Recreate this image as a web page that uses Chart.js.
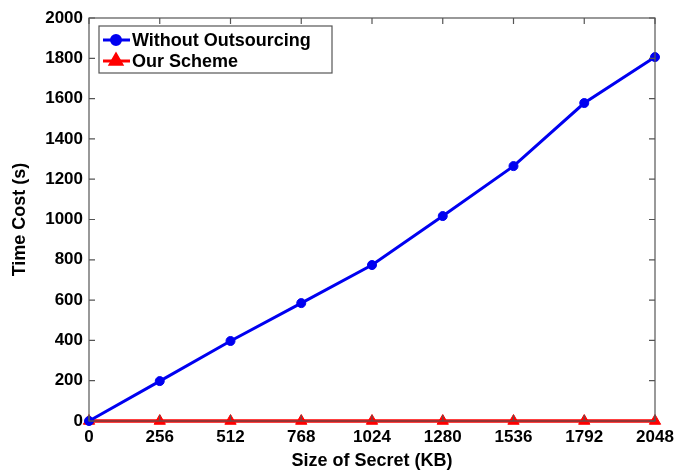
<!DOCTYPE html>
<html>
<head>
<meta charset="utf-8">
<script src="https://cdn.jsdelivr.net/npm/chart.js@4.4.1/dist/chart.umd.min.js"></script>
<style>
  html, body { margin: 0; padding: 0; background: #fff; }
  #wrap { width: 694px; height: 473px; position: relative; }
</style>
</head>
<body>
<div id="wrap"><canvas id="c"></canvas></div>
<script>
const secretSizes = [0, 256, 512, 768, 1024, 1280, 1536, 1792, 2048];
const withoutOutsourcing = [0, 198, 397, 585, 774, 1017, 1265, 1578, 1806];
const ourScheme = [0, 0, 0, 0, 0, 0, 0, 0, 0];
const seriesNames = ['Without Outsourcing', 'Our Scheme'];
const xTitle = 'Size of Secret (KB)';
const yTitle = 'Time Cost (s)';

const FONT = "'Liberation Sans', Arial, sans-serif";
const AXIS_COLOR = '#555';

function pts(ys) { return secretSizes.map((x, i) => ({ x: x, y: ys[i] })); }

const boxPlugin = {
  id: 'boxTicks',
  afterDatasetsDraw(chart) {
    const ctx = chart.ctx, a = chart.chartArea;
    const xs = chart.scales.x, ys = chart.scales.y;
    ctx.save();
    ctx.strokeStyle = AXIS_COLOR;
    ctx.lineWidth = 1.2;
    ctx.strokeRect(a.left, a.top, a.right - a.left, a.bottom - a.top);
    const L = 6;
    ctx.beginPath();
    xs.ticks.forEach(t => {
      const px = xs.getPixelForValue(t.value);
      ctx.moveTo(px, a.bottom); ctx.lineTo(px, a.bottom - L);
      ctx.moveTo(px, a.top); ctx.lineTo(px, a.top + L);
    });
    ys.ticks.forEach(t => {
      const py = ys.getPixelForValue(t.value);
      ctx.moveTo(a.left, py); ctx.lineTo(a.left + L, py);
      ctx.moveTo(a.right, py); ctx.lineTo(a.right - L, py);
    });
    ctx.stroke();
    ctx.restore();
  },
  afterDraw(chart) {
    const ctx = chart.ctx, a = chart.chartArea;
    const x0 = a.left + 10, y0 = a.top + 8, w = 233, h = 47;
    ctx.save();
    ctx.fillStyle = '#fff';
    ctx.fillRect(x0, y0, w, h);
    ctx.strokeStyle = AXIS_COLOR;
    ctx.lineWidth = 1.2;
    ctx.strokeRect(x0, y0, w, h);
    chart.data.datasets.forEach((ds, i) => {
      const cy = y0 + 14 + i * 21;
      ctx.strokeStyle = ds.borderColor;
      ctx.lineWidth = 3;
      ctx.beginPath();
      ctx.moveTo(x0 + 4, cy); ctx.lineTo(x0 + 31, cy);
      ctx.stroke();
      ctx.fillStyle = ds.borderColor;
      ctx.strokeStyle = ds.borderColor;
      Chart.helpers.drawPoint(ctx, { pointStyle: ds.pointStyle, radius: ds.pointRadius, borderWidth: 1 }, x0 + 17, cy);
      ctx.fillStyle = '#000';
      ctx.font = 'bold 18px ' + FONT;
      ctx.textBaseline = 'middle';
      ctx.textAlign = 'left';
      ctx.fillText(ds.label, x0 + 33, cy + 1);
    });
    ctx.restore();
  }
};

new Chart(document.getElementById('c'), {
  type: 'line',
  data: {
    datasets: [
      {
        label: seriesNames[0],
        data: pts(withoutOutsourcing),
        borderColor: '#0000f0',
        backgroundColor: '#0000f0',
        borderWidth: 3,
        pointStyle: 'circle',
        pointRadius: 4.5,
        pointBorderWidth: 1,
        tension: 0
      },
      {
        label: seriesNames[1],
        data: pts(ourScheme),
        borderColor: '#ff0000',
        backgroundColor: '#ff0000',
        borderWidth: 3.5,
        pointStyle: 'triangle',
        pointRadius: 6.5,
        pointBorderWidth: 1,
        tension: 0
      }
    ]
  },
  options: {
    responsive: true,
    maintainAspectRatio: false,
    animation: false,
    clip: false,
    layout: { padding: { top: 18, right: 39, left: 9, bottom: 0 } },
    plugins: { legend: { display: false }, tooltip: { enabled: false } },
    scales: {
      x: {
        type: 'linear',
        min: 0, max: 2048,
        afterBuildTicks(s) { s.ticks = secretSizes.map(v => ({ value: v })); },
        afterFit(s) { s.height = 52; },
        grid: { display: false, drawTicks: false },
        border: { display: false },
        ticks: { color: '#000', font: { family: FONT, weight: 'bold', size: 17 }, padding: 6, maxRotation: 0,
                 callback: v => String(v) },
        title: { display: true, text: xTitle, color: '#000', font: { family: FONT, weight: 'bold', size: 18 }, padding: { top: 0, bottom: 1 } }
      },
      y: {
        min: 0, max: 2000,
        ticks: { stepSize: 200, color: '#000', font: { family: FONT, weight: 'bold', size: 17 }, padding: 6,
                 callback: v => String(v) },
        afterFit(s) { s.width = 80; },
        grid: { display: false, drawTicks: false },
        border: { display: false },
        title: { display: true, text: yTitle, color: '#000', font: { family: FONT, weight: 'bold', size: 18 }, padding: { top: 0, bottom: 2 } }
      }
    }
  },
  plugins: [boxPlugin]
});
</script>
</body>
</html>
